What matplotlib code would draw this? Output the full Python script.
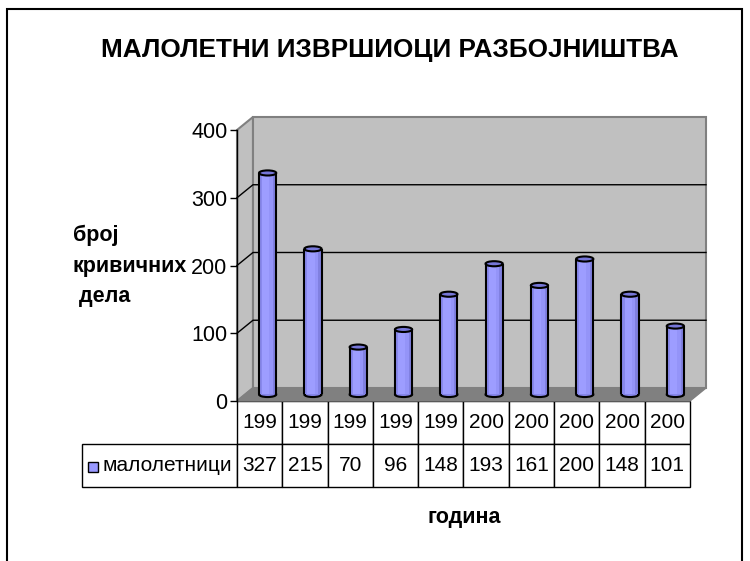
import matplotlib
matplotlib.use('Agg')
import matplotlib.pyplot as plt
from matplotlib.patches import Polygon, Rectangle, Ellipse

plt.rcParams['font.family'] = ['Liberation Sans', 'DejaVu Sans']

# Data
years = ['199', '199', '199', '199', '199', '200', '200', '200', '200', '200']
juveniles = [327, 215, 70, 96, 148, 193, 161, 200, 148, 101]
series_name = 'малолетници'
y_ticks = [0, 100, 200, 300, 400]

title = 'МАЛОЛЕТНИ ИЗВРШИОЦИ РАЗБОЈНИШТВА'
y_label = 'број\nкривичних\n дела'
x_label = 'година'

fig = plt.figure(figsize=(7.5, 5.61), dpi=100)
ax = fig.add_axes([237 / 750, 1 - 401 / 561, 453 / 750, 271 / 561])
n = len(years)
ax.set_xlim(0, n)
ax.set_ylim(0, 400)

# depth of the fake 3d box, in data units
dx, dy = 0.353, 19.2
wall = '#C0C0C0'
edge = '#808080'

# side wall, back wall, floor
ax.add_patch(Polygon([(0, 0), (dx, dy), (dx, 400 + dy), (0, 400)], closed=True,
                     fc=wall, ec=edge, lw=1.5, clip_on=False, zorder=0.5))
ax.add_patch(Rectangle((dx, dy), n, 400, fc=wall, ec=edge, lw=1.5,
                       clip_on=False, zorder=0.5))
ax.add_patch(Polygon([(0, 0), (n, 0), (n + dx, dy), (dx, dy)], closed=True,
                     fc='#808080', ec=edge, lw=1, clip_on=False, zorder=0.6))
for t in y_ticks[1:-1]:
    ax.plot([0, dx, n + dx], [t, t + dy, t + dy], color='black', lw=1,
            clip_on=False, zorder=0.7)

# cylinders, sitting half way into the box
bw = 0.38
eh = 7.5
base = dy / 2
centers = [i + 0.5 + dx / 2 for i in range(n)]
for xc in centers:
    ax.add_patch(Ellipse((xc, base), bw, eh, fc='#8585E8', ec='black', lw=1.5,
                         zorder=2, clip_on=False))
strips = [(0.0, 0.18, '#8888EC'), (0.18, 0.42, '#9D9DFF'),
          (0.60, 0.20, '#9494F8'), (0.80, 0.20, '#8080E0')]
for start, frac, col in strips:
    ax.bar([c - bw / 2 + start * bw for c in centers], juveniles, width=frac * bw,
           bottom=base, align='edge', color=col, lw=0, zorder=3, clip_on=False)
ax.vlines([c - bw / 2 for c in centers], base, [v + base for v in juveniles],
          color='black', lw=1.5, zorder=4)
ax.vlines([c + bw / 2 for c in centers], base, [v + base for v in juveniles],
          color='black', lw=1.5, zorder=4)
for xc, v in zip(centers, juveniles):
    ax.add_patch(Ellipse((xc, v + base), bw, eh, fc='#7676D8', ec='black', lw=1.5,
                         zorder=5, clip_on=False))

# axes
ax.set_yticks(y_ticks)
ax.set_xticks([])
ax.tick_params(axis='y', labelsize=15.5, length=5, width=1, pad=2)
for s in ['top', 'right', 'bottom']:
    ax.spines[s].set_visible(False)
ax.spines['left'].set_linewidth(1)
ax.patch.set_visible(False)

# data table under the plot
tbl = ax.table(cellText=[[''] + years, [series_name] + [str(v) for v in juveniles]],
               colWidths=[155 / 45.3] + [1] * n, cellLoc='center',
               bbox=[-155 / 453, -86 / 271, 608 / 453, 86 / 271])
tbl.auto_set_font_size(False)
tbl.set_fontsize(15)
for (r, c), cell in tbl.get_celld().items():
    cell.set_linewidth(1)
    cell.set_edgecolor('black')
tbl[0, 0].visible_edges = 'open'
tbl[1, 0].PAD = 0.03
tbl[1, 0]._loc = 'right'
tbl[1, 0].get_text().set_ha('right')
ax.add_patch(Rectangle((-149 / 453, -71 / 271), 10 / 453, 10 / 271,
                       transform=ax.transAxes, fc='#9999FF', ec='black', lw=1,
                       clip_on=False, zorder=10))

# texts
fig.text(390 / 750, 1 - 50 / 561, title, ha='center', va='center',
         fontsize=18.8, fontweight='bold')
fig.text(73 / 750, 1 - 266 / 561, y_label, ha='left', va='center',
         fontsize=15.5, fontweight='bold', linespacing=1.6)
fig.text(464 / 750, 1 - 517 / 561, x_label, ha='center', va='center',
         fontsize=15.5, fontweight='bold')

# chart area border
fig.add_artist(Rectangle((7 / 750, -0.05), 735 / 750, 1.05 - 9 / 561,
                         transform=fig.transFigure, fill=False, ec='black', lw=1.5))

fig.savefig('out.png', dpi=100)
